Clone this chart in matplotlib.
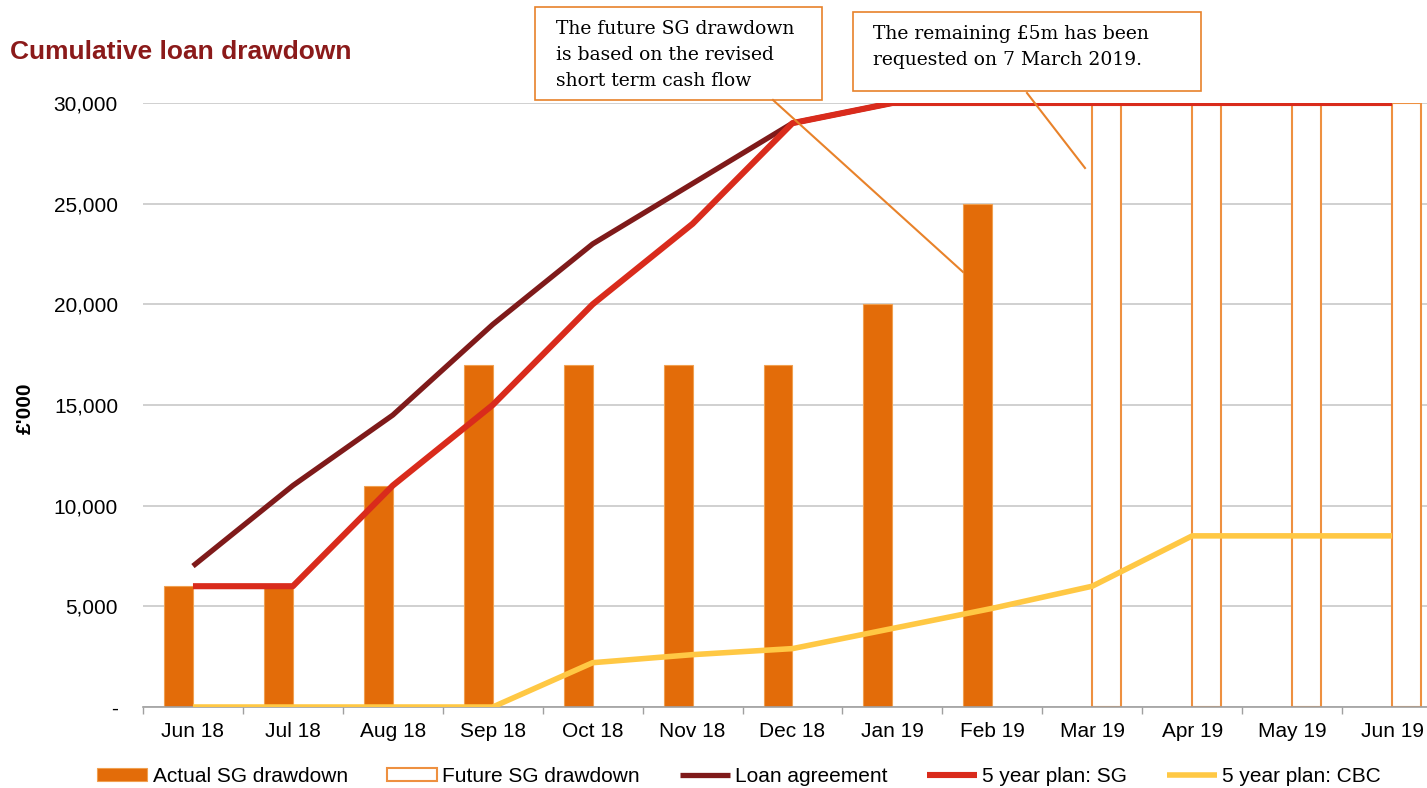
#!/usr/bin/env python3
import numpy as np
import matplotlib.pyplot as plt
from matplotlib.patches import Rectangle
from matplotlib.lines import Line2D
from matplotlib.ticker import FuncFormatter

plt.rcParams['font.family'] = ['Liberation Sans', 'DejaVu Sans']

# datos (miles de libras)
meses = ['Jun 18', 'Jul 18', 'Aug 18', 'Sep 18', 'Oct 18', 'Nov 18', 'Dec 18',
         'Jan 19', 'Feb 19', 'Mar 19', 'Apr 19', 'May 19', 'Jun 19']
actual_sg = [6000, 6000, 11000, 17000, 17000, 17000, 17000, 20000, 25000,
             np.nan, np.nan, np.nan, np.nan]
future_sg = [np.nan] * 9 + [30000, 30000, 30000, 30000]
loan_agreement = [7000, 11000, 14500, 19000, 23000, 26000, 29000,
                  30000, 30000, 30000, 30000, 30000, 30000]
plan_sg = [6000, 6000, 11000, 15000, 20000, 24000, 29000,
           30000, 30000, 30000, 30000, 30000, 30000]
plan_cbc = [0, 0, 0, 0, 2200, 2600, 2900, 3900, 4900, 6000, 8500, 8500, 8500]

W, H = 1427, 788


def fx(px):
    return px / W


def fy(py):
    return 1 - py / H


def main():
    fig = plt.figure(figsize=(W / 100, H / 100), dpi=100)
    ax = fig.add_axes([fx(143), fy(707), fx(1427) - fx(143), fy(103) - fy(707)])

    x = np.arange(len(meses))
    ancho = 0.29

    b1 = ax.bar(x - ancho / 2, actual_sg, ancho, color='#E36C09', edgecolor='#F0A050',
                linewidth=0.8, label='Actual SG drawdown', zorder=2)
    b2 = ax.bar(x + ancho / 2, future_sg, ancho, color='white', edgecolor='#EE9040',
                linewidth=1.5, label='Future SG drawdown', zorder=2)

    l1, = ax.plot(x, loan_agreement, color='#7F1A1A', lw=3.8, label='Loan agreement',
                  zorder=3, solid_capstyle='butt')
    l2, = ax.plot(x, plan_sg, color='#D92B1C', lw=4.4, label='5 year plan: SG',
                  zorder=4, solid_capstyle='butt')
    l3, = ax.plot(x, plan_cbc, color='#FFC844', lw=4.0, label='5 year plan: CBC',
                  zorder=4, solid_capstyle='butt')

    ax.set_yticks(np.arange(0, 30001, 5000))
    ax.yaxis.set_major_formatter(FuncFormatter(lambda v, p: '-' if v == 0 else f'{v:,.0f}'))
    ax.grid(axis='y', color='#C8C8C8', lw=1.2, zorder=0)
    ax.set_axisbelow(True)

    ax.set_xticks(x)
    ax.set_xticklabels(meses)
    ax.set_xticks(np.arange(-0.5, 12.6, 1), minor=True)
    ax.tick_params(axis='x', which='major', length=0, pad=11, labelsize=15)
    ax.tick_params(axis='x', which='minor', length=5, color='#A0A0A0', width=1)
    ax.tick_params(axis='y', length=0, pad=18, labelsize=15)
    ax.set_xlim(-0.5, 12.35)
    ax.set_ylim(0, 30000)

    for lado in ['left', 'right', 'top']:
        ax.spines[lado].set_visible(False)
    ax.spines['bottom'].set_color('#A0A0A0')
    ax.spines['bottom'].set_linewidth(1.2)

    ax.set_ylabel("£'000", fontsize=15, fontweight='bold')
    ax.yaxis.set_label_coords(-0.084, 0.495)

    fig.text(fx(10), fy(52), 'Cumulative loan drawdown', color='#8B1A1A',
             fontsize=19, fontweight='bold', va='center', ha='left')

    # cajas de comentario
    naranja = '#E8822A'
    fig.patches.append(Rectangle((fx(535), fy(100)), fx(822) - fx(535), fy(7) - fy(100),
                                 transform=fig.transFigure, fill=True, facecolor='white',
                                 edgecolor=naranja, lw=1.2, zorder=5))
    fig.text(fx(556), fy(55), 'The future SG drawdown\nis based on the revised\nshort term cash flow',
             family='DejaVu Serif', fontsize=13.5, va='center', ha='left',
             linespacing=1.6, zorder=6)
    fig.patches.append(Rectangle((fx(853), fy(91)), fx(1201) - fx(853), fy(12) - fy(91),
                                 transform=fig.transFigure, fill=True, facecolor='white',
                                 edgecolor=naranja, lw=1.2, zorder=5))
    fig.text(fx(873), fy(47), 'The remaining £5m has been\nrequested on 7 March 2019.',
             family='DejaVu Serif', fontsize=13.5, va='center', ha='left',
             linespacing=1.6, zorder=6)
    fig.add_artist(Line2D([fx(773), fx(963)], [fy(100), fy(272)], color=naranja, lw=1.5, zorder=6))
    fig.add_artist(Line2D([fx(1027), fx(1085)], [fy(93), fy(168)], color=naranja, lw=1.5, zorder=6))

    fig.legend([b1, b2, l1, l2, l3],
               ['Actual SG drawdown', 'Future SG drawdown', 'Loan agreement',
                '5 year plan: SG', '5 year plan: CBC'],
               loc='center', bbox_to_anchor=(fx(739), fy(776)), ncol=5, frameon=False,
               fontsize=15, handlelength=2.4, handleheight=0.6,
               columnspacing=1.9, handletextpad=0.25)

    plt.savefig('out.png', dpi=100)


if __name__ == '__main__':
    main()
